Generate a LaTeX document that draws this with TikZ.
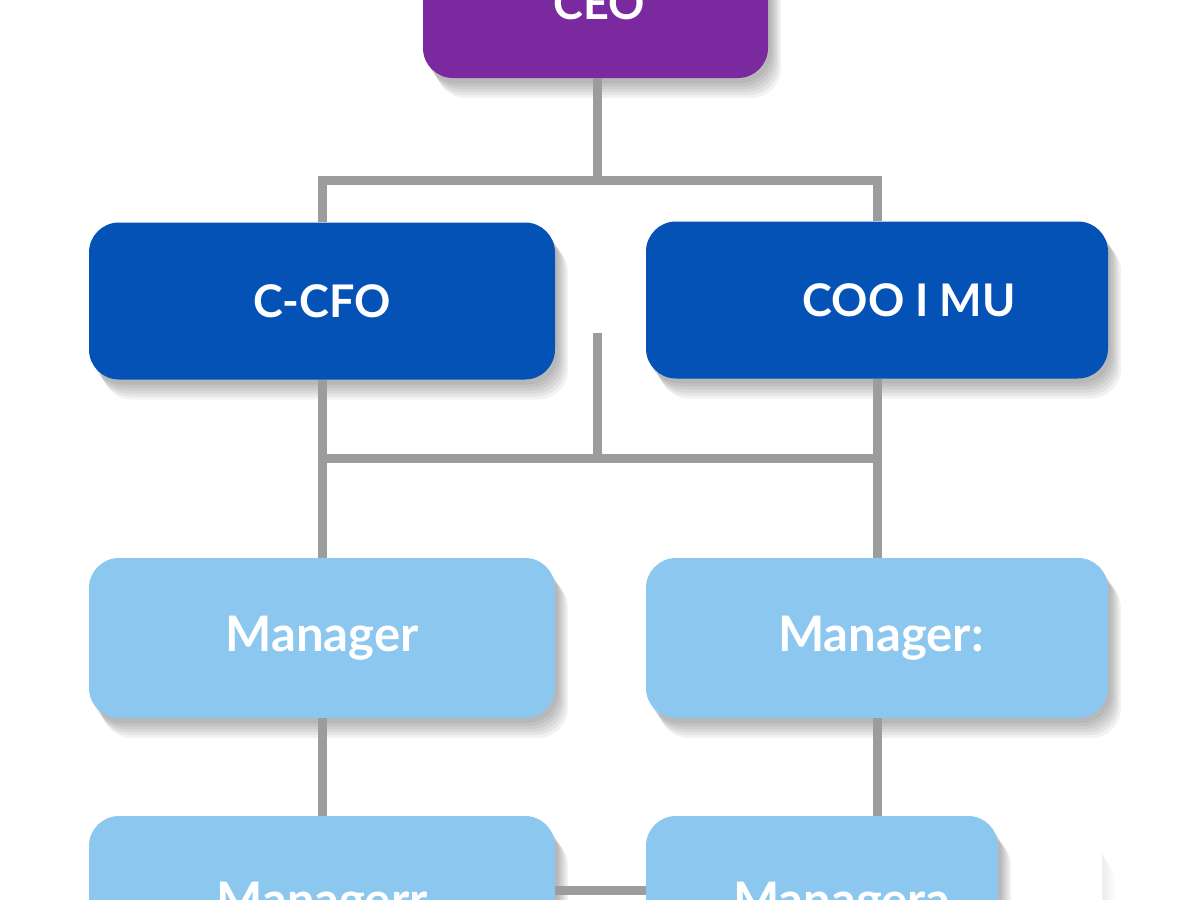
\documentclass[tikz,border=0pt]{standalone}
\usepackage{fontspec}
\setmainfont{Lato}
\definecolor{ceopurple}{HTML}{7A2A9E}
\definecolor{execblue}{HTML}{0452B6}
\definecolor{mgrblue}{HTML}{8CC7EF}
\definecolor{linkgray}{HTML}{9A9C9E}
\begin{document}
\begin{tikzpicture}[x=1pt,y=-1pt,
  % stacked offset copies give a soft shadow to the lower right
  softshadow/.style={
    preaction={fill=black, fill opacity=#1, transform canvas={xshift=3pt,yshift=-5pt}},
    preaction={fill=black, fill opacity=#1, transform canvas={xshift=5pt,yshift=-8pt}},
    preaction={fill=black, fill opacity=#1, transform canvas={xshift=7pt,yshift=-11pt}},
    preaction={fill=black, fill opacity=#1, transform canvas={xshift=9pt,yshift=-14pt}},
    preaction={fill=black, fill opacity=#1, transform canvas={xshift=11pt,yshift=-17pt}},
    preaction={fill=black, fill opacity=#1, transform canvas={xshift=13pt,yshift=-20pt}}},
  card/.style={rounded corners=30pt, inner sep=0pt, text=white, softshadow=0.05},
  topcard/.style={card, fill=execblue, minimum height=157pt,
    font=\bfseries\fontsize{45}{50}\selectfont},
  mgrcard/.style={card, fill=mgrblue, minimum height=160pt,
    font=\bfseries\fontsize{49}{54}\selectfont},
  link/.style={draw=linkgray, line width=9pt}]
\useasboundingbox (0,0) rectangle (1200,900);
\clip (0,0) rectangle (1200,900);
\fill[white] (0,0) rectangle (1200,900);

% boxes
\node[card, fill=ceopurple, minimum width=345pt, minimum height=150pt,
  font=\bfseries\fontsize{45}{50}\selectfont] (ceo) at (595.5,3) {\hspace*{8pt}CEO};
\node[topcard, minimum width=466pt] (cfo) at (322,301) {C-CFO};
\node[topcard, minimum width=462pt] (coo) at (877,300) {\hspace*{64pt}COO I MU};
\node[mgrcard, minimum width=466pt] (mgrL) at (322,638) {Manager};
\node[mgrcard, minimum width=462pt] (mgrR) at (877,638) {\hspace*{8pt}Manager:};
\node[rounded corners=30pt, inner sep=0pt, fill=white, softshadow=0.012,
  minimum width=104pt, minimum height=160pt] (ghost) at (1050,912) {};
\node[mgrcard, minimum width=466pt, minimum height=176pt] (botL) at (322,904) {Managerr};
\node[mgrcard, minimum width=352pt, minimum height=176pt] (botR) at (822,904) {\hspace*{40pt}Managera};

% junction points
\coordinate (j1) at (597,180);
\coordinate (m0) at (597,333);
\coordinate (j2) at (597,458);

% connectors
\draw[link] (ceo.south -| j1) -- (j1);
\draw[link] (cfo.north) -- (cfo.north |- j1) -- (coo.north |- j1) -- (coo.north);
\draw[link] (m0) -- (j2);
\draw[link] (cfo.south |- j2) -- (coo.south |- j2);
\draw[link] (cfo.south) -- (mgrL.north);
\draw[link] (coo.south) -- (mgrR.north);
\draw[link] (mgrL.south) -- (botL.north);
\draw[link] (mgrR.south) -- (mgrR.south |- botR.north);
\draw[link] (botL.east |- 0,890) -- (botR.west |- 0,890);
\end{tikzpicture}
\end{document}
